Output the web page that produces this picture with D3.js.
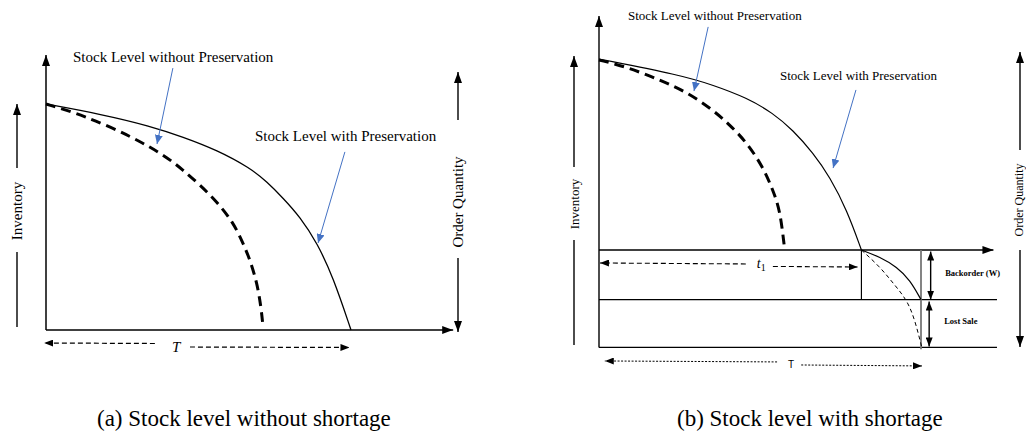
<!DOCTYPE html>
<html>
<head>
<meta charset="utf-8">
<script src="https://cdn.jsdelivr.net/npm/d3@7"></script>
<style>
  html, body { margin: 0; padding: 0; background: #fff; }
  svg { display: block; }
</style>
</head>
<body>
<script>
// ---------- Panel (a): stock level without shortage ----------
// time (% of cycle T) vs inventory (% of order quantity)
const withPreservationA = [
  [0, 100], [17.7, 95.6], [34.1, 90.3], [44.9, 85.4], [56.1, 79.6],
  [66.9, 71.7], [72.5, 65.5], [77.7, 58.4], [83.3, 50], [88.9, 38.5],
  [94.1, 23.5], [100, 0]
];
const withoutPreservationA = [
  [0, 100], [12.1, 95.1], [28.5, 85.4], [39.7, 76.5], [44.9, 70.8],
  [50.5, 64.2], [56.1, 56.6], [61.3, 47.8], [64.6, 38.5], [66.9, 31],
  [69.2, 20.8], [70.5, 10.2], [71.1, 2.2]
];

// ---------- Panel (b): stock level with shortage ----------
const t1B = 81.5;        // time at which stock runs out
const backorderB = -26;  // backorder level W
const lostSaleB = -51;   // bottom of the lost-sale band
const withPreservationB = [
  [0, 100], [25.2, 91.6], [35.4, 86.4], [46, 79.6], [54, 71.7],
  [60.2, 62.8], [66.5, 50.8], [71.7, 38.2], [77, 20.9], [81.5, 0]
];
const shortageSolidB = [
  [81.5, 0], [87.3, -3.7], [92.5, -8.9], [96.6, -15.7], [100, -26]
];
const shortageDashedB = [
  [81.5, 0], [87.3, -8.9], [91.3, -17.3], [95.7, -26.2], [98.1, -36.6], [100.3, -51.3]
];
const withoutPreservationB = [
  [0, 99.5], [8.7, 95.8], [18.9, 89], [27.3, 82.7], [35.4, 73.3],
  [40.7, 65.4], [46, 56], [50.9, 43.5], [54, 31.4], [56.2, 20.9], [57.5, 2.6]
];

const labelWithout = "Stock Level without Preservation";
const labelWith = "Stock Level with Preservation";
const captions = ["(a) Stock level without shortage", "(b) Stock level with shortage"];

const W = 1026, H = 434;
const svg = d3.select("body").append("svg").attr("width", W).attr("height", H);
svg.append("rect").attr("width", W).attr("height", H).attr("fill", "#fff");

const blue = "#4472c4";
const serif = "'Liberation Serif', 'Times New Roman', serif";

// arrowheads
const defs = svg.append("defs");
function marker(id, color, w, h) {
  defs.append("marker")
    .attr("id", id).attr("markerUnits", "userSpaceOnUse")
    .attr("viewBox", `0 0 ${w} ${h}`)
    .attr("refX", w).attr("refY", h / 2)
    .attr("markerWidth", w).attr("markerHeight", h)
    .attr("orient", "auto-start-reverse")
    .append("path").attr("d", `M0,0L${w},${h / 2}L0,${h}Z`).attr("fill", color);
}
marker("arrowK", "#000", 11, 8);
marker("arrowKs", "#000", 9, 7);
marker("arrowB", blue, 9, 8);

function line(g, p1, p2, opts = {}) {
  const l = g.append("line")
    .attr("x1", p1[0]).attr("y1", p1[1]).attr("x2", p2[0]).attr("y2", p2[1])
    .attr("stroke", opts.color || "#000")
    .attr("stroke-width", opts.width || 1.2);
  if (opts.dash) l.attr("stroke-dasharray", opts.dash);
  if (opts.end) l.attr("marker-end", `url(#${opts.end})`);
  if (opts.start) l.attr("marker-start", `url(#${opts.start})`);
  return l;
}

function curve(g, data, x, y, opts) {
  const gen = d3.line().x(d => x(d[0])).y(d => y(d[1])).curve(d3.curveBasis);
  const p = g.append("path").attr("d", gen(data)).attr("fill", "none")
    .attr("stroke", "#000").attr("stroke-width", opts.width);
  if (opts.dash) p.attr("stroke-dasharray", opts.dash);
  return p;
}

function rotLabel(g, x, y, text, fs) {
  g.append("text")
    .attr("transform", `translate(${x},${y}) rotate(-90)`)
    .attr("text-anchor", "middle")
    .attr("font-family", serif).attr("font-size", fs)
    .text(text);
}

// ================= Panel (a) =================
{
  const g = svg.append("g");
  const x = d3.scaleLinear().domain([0, 100]).range([46, 351]);
  const y = d3.scaleLinear().domain([0, 100]).range([330, 104]);

  // axes
  line(g, [x(0), y(0)], [x(133.5), y(0)], { width: 1.5, end: "arrowK" });
  line(g, [x(0), y(0)], [x(0), y(121.7)], { width: 1.5, end: "arrowK" });

  curve(g, withPreservationA, x, y, { width: 1.3 });
  curve(g, withoutPreservationA, x, y, { width: 3, dash: "10,6" });

  // side labels
  line(g, [17, 168], [17, y(100)], { width: 1.4, end: "arrowK" });
  line(g, [17, 252], [17, 327], { width: 1.4 });
  rotLabel(g, 22, 211, "Inventory", 15);

  line(g, [458, 120], [458, 72], { width: 1.4, end: "arrowK" });
  line(g, [458, 258], [458, 332], { width: 1.4, end: "arrowK" });
  rotLabel(g, 463, 202, "Order Quantity", 15);

  // annotations
  g.append("text").attr("x", x(8.85)).attr("y", y(118.6))
    .attr("font-family", serif).attr("font-size", 15).text(labelWithout);
  line(g, [x(41.6), y(115.9)], [x(36.4), y(82.3)], { color: blue, width: 1, end: "arrowB" });
  g.append("text").attr("x", x(68.5)).attr("y", y(83.6))
    .attr("font-family", serif).attr("font-size", 15).text(labelWith);
  line(g, [x(98), y(78.8)], [x(89.2), y(38.5)], { color: blue, width: 1, end: "arrowB" });

  // T span
  line(g, [x(35.7), 343.5], [x(-0.6), 343], { width: 1.2, dash: "5,3", end: "arrowKs" });
  line(g, [x(47.2), 347], [x(99.5), 347.5], { width: 1.2, dash: "5,3", end: "arrowKs" });
  g.append("text").attr("x", x(41.3)).attr("y", 352)
    .attr("font-family", serif).attr("font-style", "italic").attr("font-size", 15).text("T");

  g.append("text").attr("x", 97).attr("y", 426)
    .attr("font-family", serif).attr("font-size", 23)
    .text(captions[0]);
}

// ================= Panel (b) =================
{
  const g = svg.append("g");
  const x = d3.scaleLinear().domain([0, 100]).range([599, 921]);
  const y = d3.scaleLinear().domain([0, 100]).range([250, 59]);

  // vertical axis
  line(g, [x(0), y(lostSaleB)], [x(0), y(122.5)], { width: 1.4, end: "arrowK" });
  // time axis and shortage bands
  line(g, [x(0), y(0)], [x(122.5), y(0)], { width: 1.4, end: "arrowK" });
  line(g, [x(0), y(backorderB)], [x(123.6), y(backorderB)], { width: 1.3 });
  line(g, [x(0), y(lostSaleB)], [x(123.6), y(lostSaleB)], { width: 1.3 });
  line(g, [x(t1B), y(0)], [x(t1B), y(backorderB)], { width: 1.2 });
  line(g, [x(100), y(0)], [x(100), y(lostSaleB - 1)], { width: 1.8, color: "#777" });

  curve(g, withPreservationB, x, y, { width: 1.2 });
  curve(g, shortageSolidB, x, y, { width: 1.2 });
  curve(g, shortageDashedB, x, y, { width: 1, dash: "4,3" });
  curve(g, withoutPreservationB, x, y, { width: 3, dash: "10,6" });

  // backorder / lost sale double arrows
  const bx = x(103);
  line(g, [bx, y(-0.8)], [bx, y(backorderB)], { width: 1.4, start: "arrowKs", end: "arrowKs" });
  line(g, [bx - 1.5, y(backorderB - 1)], [bx - 1.5, y(lostSaleB + 0.5)], { width: 1.4, start: "arrowKs", end: "arrowKs" });
  g.append("text").attr("x", x(107.5)).attr("y", y(-13.8))
    .attr("font-family", serif).attr("font-size", 8.5).attr("font-weight", "bold")
    .text("Backorder (W)");
  g.append("text").attr("x", x(107.2)).attr("y", y(-39))
    .attr("font-family", serif).attr("font-size", 8.5).attr("font-weight", "bold")
    .text("Lost Sale");

  // side labels
  line(g, [574, 167], [574, 56], { width: 1.4, end: "arrowK" });
  line(g, [574, 240], [574, 345], { width: 1.4 });
  rotLabel(g, 578.5, 204, "Inventory", 13);

  line(g, [1020, 150], [1020, 52], { width: 1.4, end: "arrowK" });
  line(g, [1020, 250], [1020, 347], { width: 1.4, end: "arrowK" });
  rotLabel(g, 1023, 200, "Order Quantity", 12);

  // annotations
  g.append("text").attr("x", x(9)).attr("y", y(120.4))
    .attr("font-family", serif).attr("font-size", 13).text(labelWithout);
  line(g, [x(33.9), y(116.8)], [x(29.5), y(83.2)], { color: blue, width: 1, end: "arrowB" });
  g.append("text").attr("x", x(56.2)).attr("y", y(89))
    .attr("font-family", serif).attr("font-size", 13).text(labelWith);
  line(g, [x(79.8), y(83.8)], [x(72.7), y(42.9)], { color: blue, width: 1, end: "arrowB" });

  // t1 span
  line(g, [x(45.6), y(-7.3)], [x(0.3), y(-6.8)], { width: 1.1, dash: "5,3", end: "arrowKs" });
  line(g, [x(54), y(-8.6)], [x(80.3), y(-8.9)], { width: 1.1, dash: "5,3", end: "arrowKs" });
  const t1 = g.append("text").attr("x", x(49)).attr("y", y(-9.4))
    .attr("font-family", serif).attr("font-style", "italic").attr("font-size", 14);
  t1.append("tspan").text("t");
  t1.append("tspan").attr("dy", 3).attr("font-style", "normal").attr("font-size", 10).text("1");

  // T span
  line(g, [x(55.3), y(-58.6)], [x(1.8), y(-58.1)], { width: 1, dash: "2,1.5", end: "arrowKs" });
  line(g, [x(62.8), y(-60.2)], [x(100.3), y(-60.7)], { width: 1, dash: "2,1.5", end: "arrowKs" });
  g.append("text").attr("x", x(58.7)).attr("y", y(-62))
    .attr("font-family", "'Liberation Sans', Arial, sans-serif").attr("font-size", 10).text("T");

  g.append("text").attr("x", 677).attr("y", 426)
    .attr("font-family", serif).attr("font-size", 23)
    .text(captions[1]);
}
</script>
</body>
</html>
